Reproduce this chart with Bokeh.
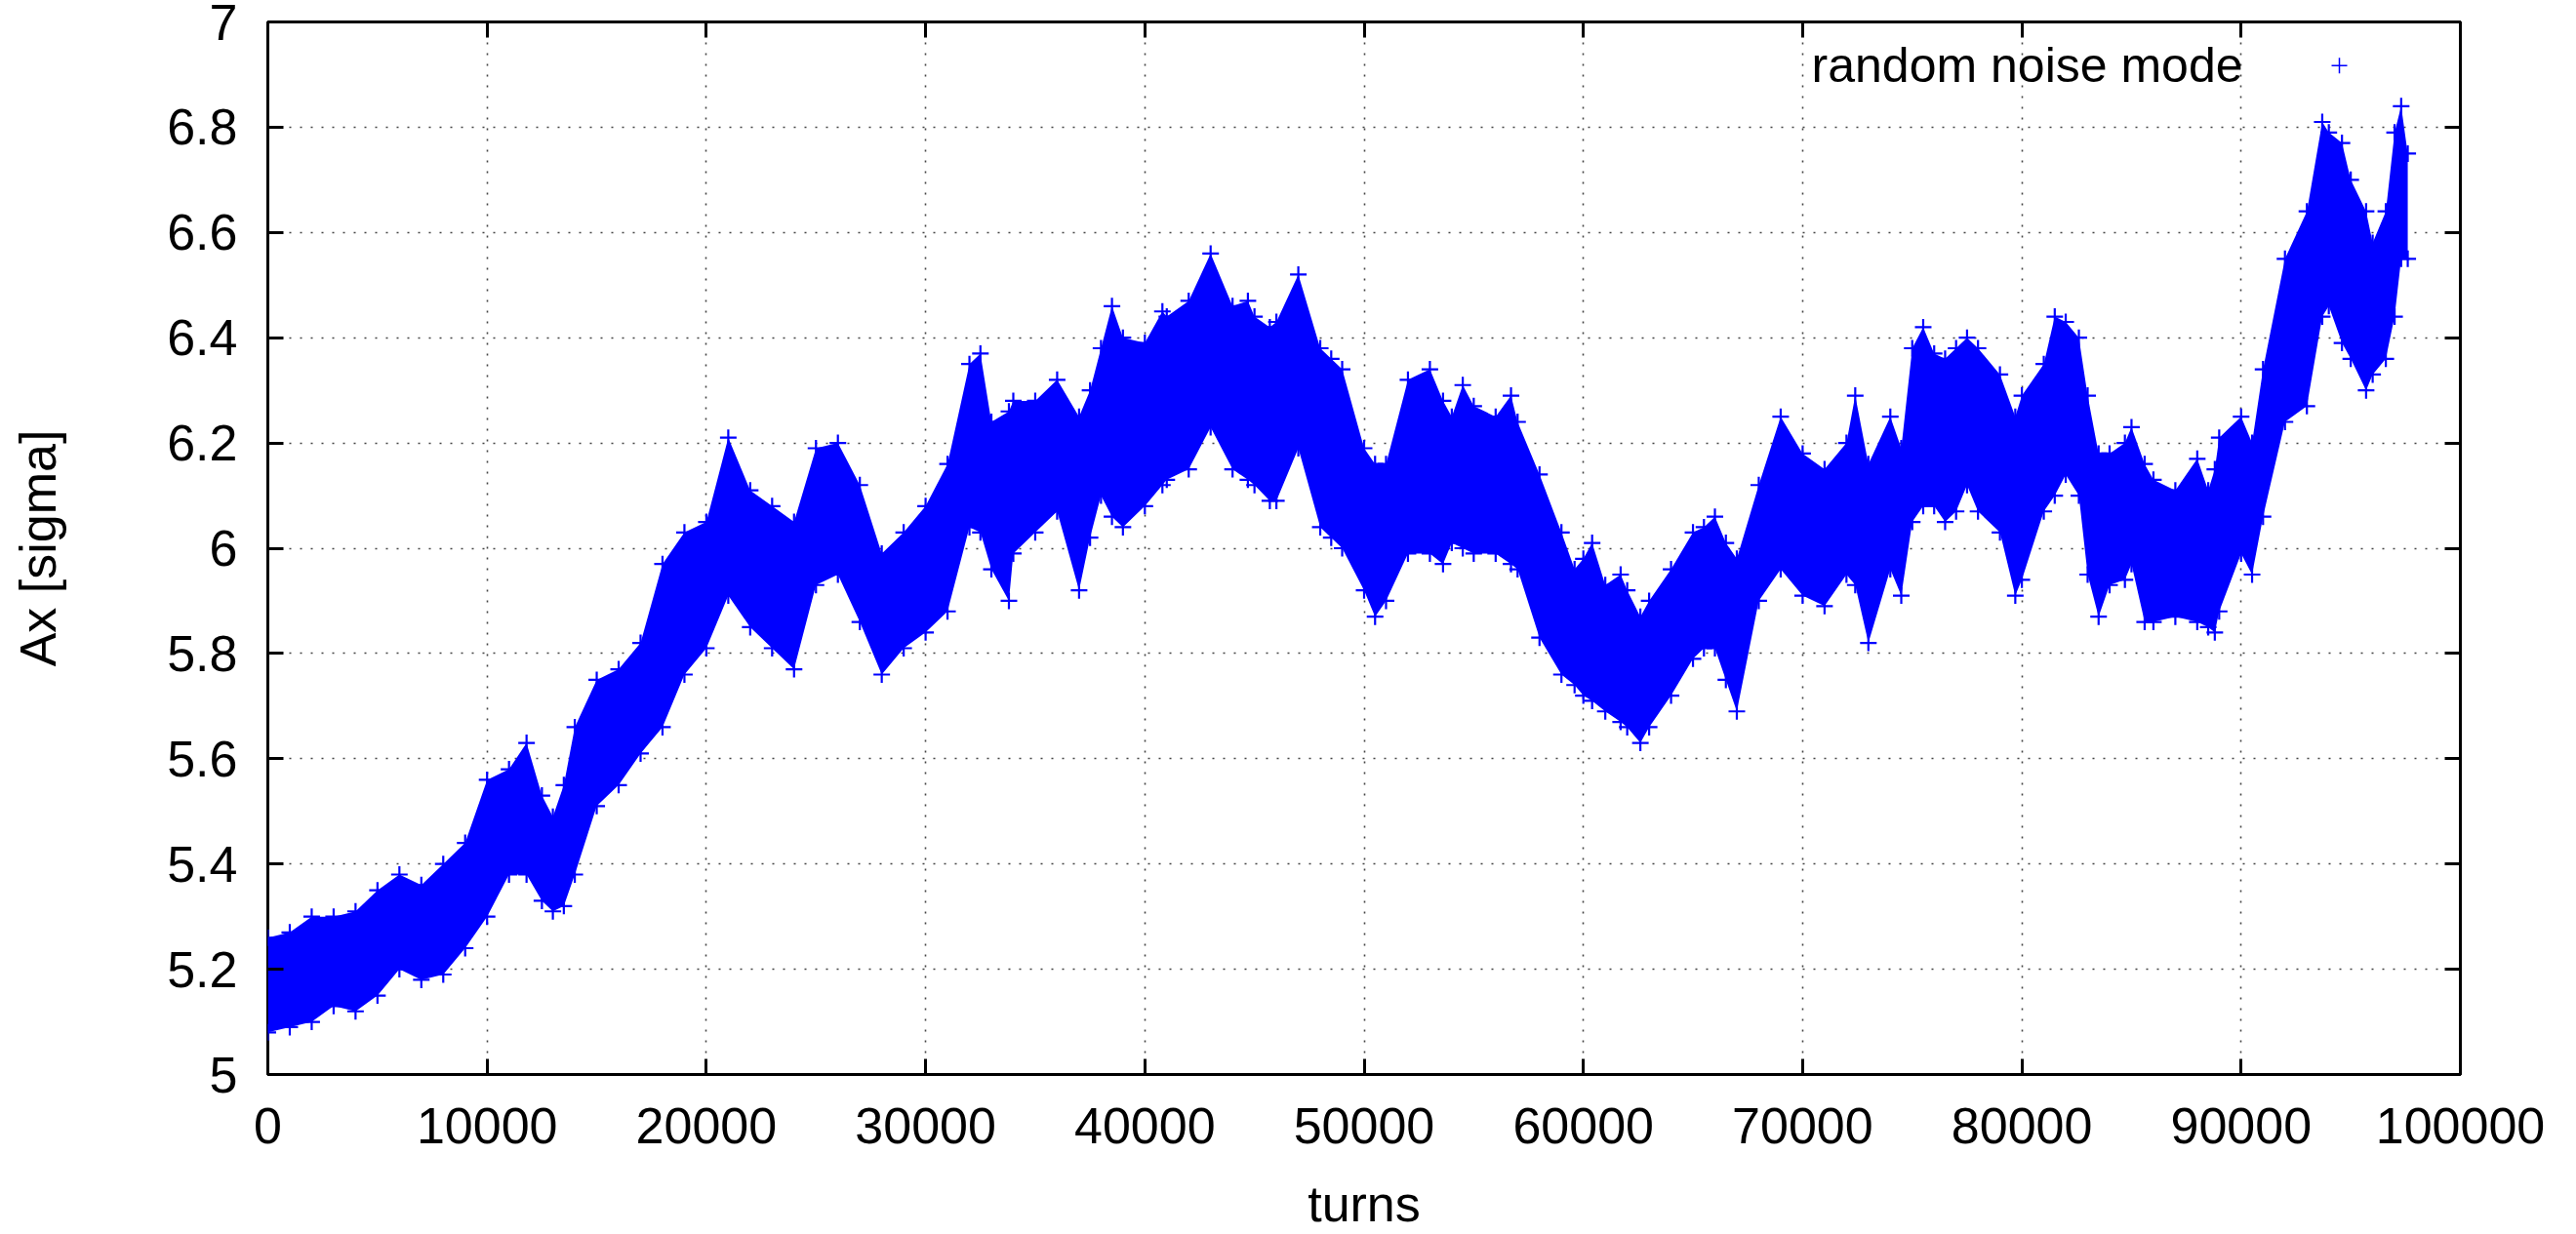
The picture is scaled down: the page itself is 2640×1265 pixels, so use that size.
from bokeh.plotting import figure
from bokeh.models import LinearAxis, Range1d, Label, FixedTicker, ColumnDataSource
from bokeh.embed import file_html
from bokeh.resources import INLINE

# ---- data (upper / lower envelope of the point cloud) ----
turns = [0, 1000, 2000, 3000, 4000, 5000, 6000, 7000, 8000, 9000,
         10000, 11000, 11800, 12500, 13000, 13500, 14000, 15000, 16000, 17000,
         18000, 19000, 20000, 21000, 22000, 23000, 24000, 25000, 26000, 27000,
         28000, 29000, 30000, 31000, 32000, 32500, 33000, 33800, 34000, 35000,
         36000, 37000, 37500, 38000, 38500, 39000, 40000, 40800, 41000, 42000,
         43000, 44000, 44700, 45000, 45700, 46000, 47000, 48000, 48500, 49000,
         50000, 50500, 51000, 52000, 53000, 53600, 54000, 54500, 55000, 56000,
         56700, 57000, 58000, 59000, 59600, 60000, 60400, 61000, 61700, 62000,
         62600, 63000, 64000, 65000, 65500, 66000, 66500, 67000, 68000, 69000,
         70000, 71000, 72000, 72400, 73000, 74000, 74500, 75000, 75500, 76000,
         76500, 77000, 77500, 78000, 79000, 79700, 80000, 81000, 81500, 82000,
         82600, 83000, 83500, 84000, 84700, 85000, 85600, 86000, 87000, 88000,
         88500, 88800, 89000, 90000, 90500, 91000, 92000, 93000, 93700, 94000,
         94600, 95000, 95700, 96000, 96600, 97000, 97300, 97600]

ax_upper = [5.26, 5.27, 5.30, 5.30, 5.31, 5.35, 5.38, 5.36, 5.40, 5.44,
            5.56, 5.58, 5.63, 5.53, 5.49, 5.55, 5.66, 5.75, 5.77, 5.82,
            5.97, 6.03, 6.05, 6.21, 6.11, 6.08, 6.05, 6.19, 6.20, 6.12,
            5.99, 6.03, 6.08, 6.16, 6.35, 6.37, 6.24, 6.26, 6.28, 6.28,
            6.32, 6.25, 6.30, 6.38, 6.46, 6.40, 6.39, 6.45, 6.44, 6.47,
            6.56, 6.46, 6.47, 6.44, 6.42, 6.43, 6.52, 6.38, 6.36, 6.34,
            6.19, 6.16, 6.16, 6.32, 6.34, 6.28, 6.25, 6.31, 6.27, 6.25,
            6.29, 6.24, 6.14, 6.03, 5.96, 5.98, 6.01, 5.93, 5.95, 5.92,
            5.87, 5.90, 5.96, 6.03, 6.04, 6.06, 6.01, 5.98, 6.12, 6.25,
            6.18, 6.15, 6.20, 6.29, 6.16, 6.25, 6.19, 6.38, 6.42, 6.37,
            6.36, 6.38, 6.40, 6.38, 6.33, 6.25, 6.29, 6.35, 6.44, 6.43,
            6.40, 6.29, 6.18, 6.18, 6.20, 6.23, 6.16, 6.13, 6.11, 6.17,
            6.11, 6.15, 6.21, 6.25, 6.20, 6.34, 6.55, 6.64, 6.81, 6.79,
            6.77, 6.70, 6.64, 6.58, 6.64, 6.79, 6.84, 6.75]

ax_lower = [5.08, 5.09, 5.10, 5.13, 5.12, 5.15, 5.20, 5.18, 5.19, 5.24,
            5.30, 5.38, 5.38, 5.33, 5.31, 5.32, 5.38, 5.51, 5.55, 5.61,
            5.66, 5.76, 5.81, 5.91, 5.85, 5.81, 5.77, 5.93, 5.95, 5.86,
            5.76, 5.81, 5.84, 5.88, 6.04, 6.03, 5.96, 5.90, 5.99, 6.03,
            6.07, 5.92, 6.02, 6.10, 6.06, 6.04, 6.08, 6.12, 6.13, 6.15,
            6.23, 6.15, 6.13, 6.12, 6.09, 6.09, 6.19, 6.04, 6.02, 6.00,
            5.92, 5.87, 5.90, 5.99, 5.99, 5.97, 6.01, 6.00, 5.99, 5.99,
            5.97, 5.96, 5.83, 5.76, 5.74, 5.72, 5.71, 5.69, 5.67, 5.66,
            5.63, 5.66, 5.72, 5.79, 5.81, 5.81, 5.75, 5.69, 5.90, 5.96,
            5.91, 5.89, 5.95, 5.93, 5.82, 5.96, 5.91, 6.05, 6.08, 6.08,
            6.05, 6.07, 6.12, 6.07, 6.03, 5.91, 5.94, 6.07, 6.10, 6.14,
            6.10, 5.95, 5.87, 5.93, 5.94, 5.97, 5.86, 5.86, 5.87, 5.86,
            5.85, 5.84, 5.88, 5.99, 5.95, 6.06, 6.24, 6.27, 6.44, 6.46,
            6.39, 6.36, 6.30, 6.33, 6.36, 6.44, 6.55, 6.55]

x_ticks = [0, 10000, 20000, 30000, 40000, 50000, 60000, 70000, 80000, 90000, 100000]
x_tick_labels = ["0", "10000", "20000", "30000", "40000", "50000",
                 "60000", "70000", "80000", "90000", "100000"]
y_ticks = [5, 5.2, 5.4, 5.6, 5.8, 6, 6.2, 6.4, 6.6, 6.8, 7]
y_tick_labels = ["5", "5.2", "5.4", "5.6", "5.8", "6", "6.2", "6.4", "6.6", "6.8", "7"]

series_name = "random noise mode"
x_title = "turns"
y_title = "Ax [sigma]"

# ---- styling ----
FONT = "Liberation Sans"
FS = "52px"
BLUE = "#0000ff"

p = figure(width=2632, height=1265, output_backend="svg", toolbar_location=None,
           x_range=Range1d(0, 100000), y_range=Range1d(5, 7),
           min_border_left=274, min_border_right=111,
           min_border_top=22, min_border_bottom=162)
p.background_fill_color = "white"
p.border_fill_color = "white"
p.outline_line_color = "black"
p.outline_line_width = 3

xt = FixedTicker(ticks=x_ticks)
yt = FixedTicker(ticks=y_ticks)
p.xaxis.ticker = xt
p.yaxis.ticker = yt
p.xaxis.major_label_overrides = dict(zip(x_ticks, x_tick_labels))
p.yaxis.major_label_overrides = dict(zip(y_ticks, y_tick_labels))

for ax in (p.xaxis[0], p.yaxis[0]):
    ax.axis_line_color = None
    ax.major_tick_in = 16
    ax.major_tick_out = 0
    ax.major_tick_line_width = 3
    ax.major_tick_line_color = "black"
    ax.minor_tick_line_color = None
    ax.major_label_text_font = FONT
    ax.major_label_text_font_size = FS
    ax.major_label_text_color = "black"
    ax.axis_label_text_font = FONT
    ax.axis_label_text_font_size = FS
    ax.axis_label_text_font_style = "normal"
    ax.axis_label_text_color = "black"

p.xaxis.major_label_standoff = 34
p.yaxis.major_label_standoff = 31
p.xaxis.axis_label = x_title
p.xaxis.axis_label_standoff = 30
p.yaxis.axis_label = y_title
p.yaxis.axis_label_standoff = 100

# mirrored ticks on top and right (no labels)
for loc, tk, ticks in (("above", xt, x_ticks), ("right", yt, y_ticks)):
    ax = LinearAxis(ticker=tk)
    ax.axis_line_color = None
    ax.major_tick_in = 16
    ax.major_tick_out = 0
    ax.major_tick_line_width = 3
    ax.major_tick_line_color = "black"
    ax.minor_tick_line_color = None
    ax.major_label_overrides = {t: "" for t in ticks}
    ax.major_label_text_font_size = "10px"
    ax.major_label_standoff = 0
    p.add_layout(ax, loc)

p.grid.grid_line_color = "#444444"
p.grid.grid_line_width = 1.6
p.grid.grid_line_dash = "2 9"

src = ColumnDataSource(dict(turns=turns, ax_upper=ax_upper, ax_lower=ax_lower))
p.varea(x="turns", y1="ax_lower", y2="ax_upper", source=src, fill_color=BLUE, fill_alpha=1.0)
p.scatter(x="turns", y="ax_upper", source=src, marker="cross", size=17,
          line_color=BLUE, line_width=2.2)
p.scatter(x="turns", y="ax_lower", source=src, marker="cross", size=17,
          line_color=BLUE, line_width=2.2)

# gnuplot-style key: text on the left, sample on the right
KEY_TEXT_X = 90076
KEY_SAMPLE_X = 94482
KEY_Y = 6.917
p.add_layout(Label(x=KEY_TEXT_X, y=KEY_Y, text=series_name, text_align="right",
                   text_baseline="middle", text_font=FONT, text_font_size="50px",
                   text_color="black"))
p.scatter(x=[KEY_SAMPLE_X], y=[KEY_Y], marker="cross", size=16,
          line_color=BLUE, line_width=1.5)

open("out.html", "w").write(file_html(p, INLINE))
